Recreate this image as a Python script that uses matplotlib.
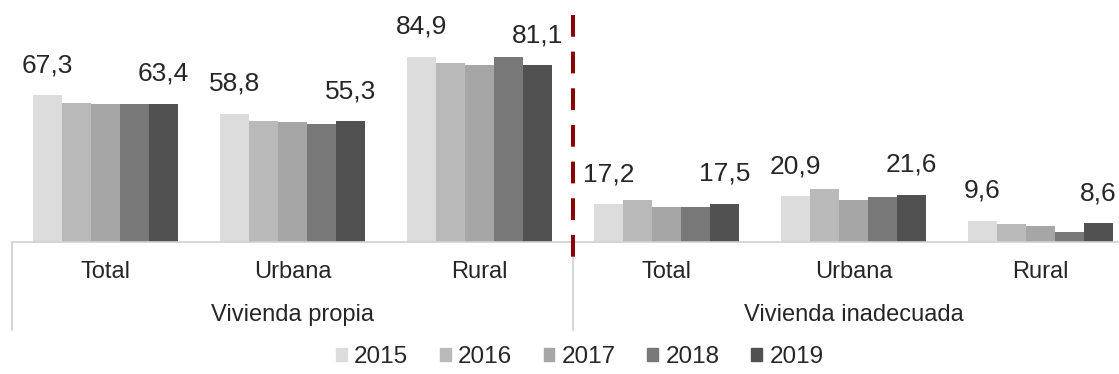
import matplotlib
matplotlib.use("Agg")
import matplotlib.pyplot as plt
from matplotlib.patches import Patch

plt.rcParams["font.family"] = ["Liberation Sans", "DejaVu Sans"]

# data
groups = ["Total", "Urbana", "Rural", "Total", "Urbana", "Rural"]
sections = ["Vivienda propia", "Vivienda inadecuada"]
years = ["2015", "2016", "2017", "2018", "2019"]
v2015 = [67.3, 58.8, 84.9, 17.2, 20.9, 9.6]
v2016 = [63.6, 55.3, 82.2, 19.4, 24.2, 8.4]
v2017 = [63.5, 55.2, 81.1, 16.0, 19.4, 7.2]
v2018 = [63.5, 53.9, 85.0, 16.0, 20.6, 4.6]
v2019 = [63.4, 55.3, 81.1, 17.5, 21.6, 8.6]
series = [v2015, v2016, v2017, v2018, v2019]
colors = ["#dcdcdc", "#b9b9b9", "#a6a6a6", "#787878", "#515151"]
txt = "#262626"

fig = plt.figure(figsize=(11.19, 3.74), dpi=100)
ax = fig.add_axes([0, 0.353, 1, 0.647])

w = 0.155
x = list(range(len(groups)))
for i, vals in enumerate(series):
    xs = [g + (i - 2) * w for g in x]
    ax.bar(xs, vals, width=w, color=colors[i], linewidth=0)
    if i in (0, 4):
        for xx, v in zip(xs, vals):
            ax.annotate(f"{v:.1f}".replace(".", ","), (xx, v), xytext=(0, 13),
                        textcoords="offset points", ha="center", va="bottom",
                        fontsize=19, color=txt)

ax.set_xlim(-0.564, 5.42)
ax.set_ylim(0, 111)
ax.axis("off")

# base line and category axis separators
ax.plot([-0.5, 5.6], [0, 0], color="#d0d0d0", lw=1.2, clip_on=False)
for xv in (-0.5, 2.5):
    ax.plot([xv, xv], [0, -40.4], color="#d0d0d0", lw=1.2, clip_on=False)

for g, name in zip(x, groups):
    ax.text(g, -13.8, name, ha="center", va="center", fontsize=17, color=txt)
for k, name in enumerate(sections):
    ax.text(1 + 3 * k, -33.5, name, ha="center", va="center", fontsize=17, color=txt)

# red divider
ax.plot([2.5, 2.5], [104, -9.2], color="#8b0000", lw=2.9, linestyle=(0, (5.4, 3.7)),
        clip_on=False, solid_capstyle="butt", dash_capstyle="butt")

handles = [Patch(color=c) for c in colors]
fig.legend(handles, years, loc="center", bbox_to_anchor=(0.518, 1 - 357 / 374), ncol=5,
           frameon=False, fontsize=17.5, handlelength=0.45, handleheight=0.45,
           handletextpad=0.3, columnspacing=1.3, labelcolor=txt)

fig.savefig("out.png", dpi=100)
